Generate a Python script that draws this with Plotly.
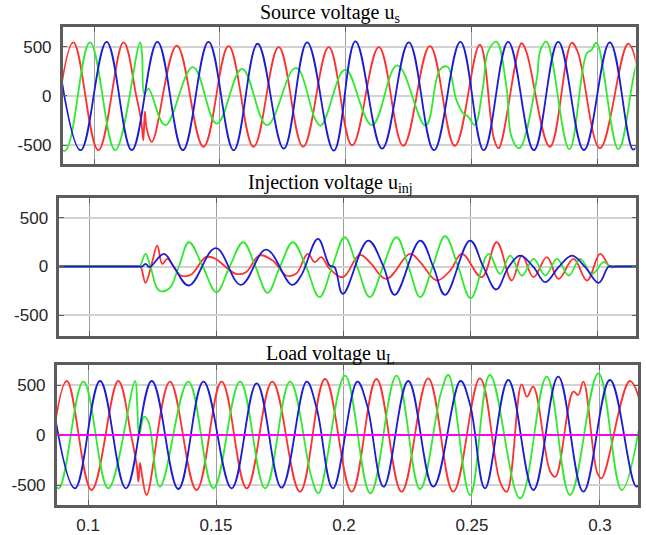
import plotly.graph_objects as go

# ---------------- data ----------------
# time in s, voltage in V; phase a = red, b = green, c = blue

# Source voltage u_s
src_a_t = [0.0850, 0.0918, 0.1017, 0.1117, 0.1168, 0.1188, 0.1196, 0.1202, 0.1210, 0.1230, 0.1329, 0.1435,
           0.1535, 0.1634, 0.1734, 0.1831, 0.1933, 0.2026, 0.2132, 0.2229, 0.2335, 0.2434, 0.2533, 0.2590,
           0.2608, 0.2699, 0.2718, 0.2812, 0.2898, 0.2922, 0.3011, 0.3123, 0.3170]
src_a_v = [-280, 545, -550, 545, 0, -260, -450, -160, -340, -465, 512, -515,
           505, -515, 495, -515, 495, -500, 495, -505, 505, -505, 520, -440,
           -530, 535, 450, -515, 540, 450, -530, 530, 150]

src_b_t = [0.0850, 0.0885, 0.0984, 0.1084, 0.1183, 0.1191, 0.1200, 0.1216, 0.1283, 0.1393, 0.1488, 0.1588,
           0.1687, 0.1790, 0.1812, 0.1880, 0.1902, 0.1985, 0.2005, 0.2105, 0.2205, 0.2318, 0.2374, 0.2405,
           0.2440, 0.2467, 0.2487, 0.2513, 0.2546, 0.2566, 0.2599, 0.2639, 0.2659, 0.2690, 0.2759, 0.2774,
           0.2798, 0.2889, 0.2958, 0.2977, 0.2997, 0.3084, 0.3150, 0.3175]
src_b_v = [-500, -555, 545, -550, 545, 420, 20, 75, -296, 293, -280, 276,
           -296, 270, 276, -240, -300, 245, 265, -296, 310, -300, 264, 297,
           -40, -176, -209, -294, 95, 449, 551, 95, -412, -530, 162, 466,
           551, -540, 432, 466, 540, -540, 264, 450]

src_c_t = [0.0848, 0.0947, 0.1050, 0.1150, 0.1252, 0.1353, 0.1455, 0.1555, 0.1650, 0.1754, 0.1847, 0.1953,
           0.2039, 0.2145, 0.2251, 0.2351, 0.2456, 0.2549, 0.2646, 0.2748, 0.2845, 0.2947, 0.3050, 0.3143,
           0.3180]
src_c_v = [550, -550, 550, -550, 550, -550, 550, -550, 530, -535, 545, -555,
           555, -535, 545, -550, 550, -550, 550, -550, 550, -550, 545, -545,
           -300]

# Injection voltage u_inj
inj_a_t = [0.0850, 0.1190, 0.1201, 0.1221, 0.1247, 0.1267, 0.1287, 0.1307, 0.1359, 0.1399, 0.1458, 0.1491,
           0.1576, 0.1616, 0.1668, 0.1721, 0.1774, 0.1813, 0.1859, 0.1886, 0.1912, 0.1945, 0.1997, 0.2063,
           0.2103, 0.2168, 0.2261, 0.2301, 0.2366, 0.2419, 0.2465, 0.2543, 0.2602, 0.2661, 0.2701, 0.2747,
           0.2799, 0.2845, 0.2904, 0.2957, 0.3009, 0.3049, 0.3075, 0.3200]
inj_a_v = [0, 0, 0, -167, 44, 214, 27, 78, -92, -85, 95, 85,
           -75, -58, 112, 61, -92, -75, 130, 44, 95, -24, -109, 119,
           44, -126, 129, 44, -143, -41, 129, -109, 248, -143, 112, -109,
           95, -126, 78, -143, 129, -7, 0, 0]

inj_b_t = [0.0850, 0.1190, 0.1198, 0.1221, 0.1241, 0.1274, 0.1313, 0.1352, 0.1392, 0.1446, 0.1500, 0.1552,
           0.1605, 0.1653, 0.1701, 0.1750, 0.1800, 0.1852, 0.1905, 0.1955, 0.2004, 0.2053, 0.2103, 0.2155,
           0.2208, 0.2255, 0.2301, 0.2350, 0.2399, 0.2450, 0.2500, 0.2570, 0.2615, 0.2655, 0.2701, 0.2747,
           0.2793, 0.2839, 0.2885, 0.2930, 0.2976, 0.3022, 0.3049, 0.3075, 0.3200]
inj_b_v = [0, 0, 0, 130, -7, -245, -228, 0, 248, 0, -262, 0,
           248, 0, -269, 0, 248, 0, -313, 0, 299, 0, -313, 0,
           299, 0, -313, 0, 309, 0, -323, 129, -75, 112, -92, 78,
           -92, 78, -92, 78, -75, 44, 0, 0, 0]

inj_c_t = [0.0850, 0.1195, 0.1208, 0.1221, 0.1237, 0.1293, 0.1333, 0.1392, 0.1497, 0.1596, 0.1695, 0.1797,
           0.1833, 0.1899, 0.1945, 0.1964, 0.1997, 0.2096, 0.2155, 0.2201, 0.2301, 0.2353, 0.2399, 0.2497,
           0.2550, 0.2600, 0.2648, 0.2694, 0.2747, 0.2793, 0.2845, 0.2898, 0.2950, 0.3003, 0.3042, 0.3060,
           0.3200]
inj_c_v = [0, 0, 0, 27, -7, 130, -7, -194, 187, -187, 173, -187,
           -92, 282, 10, -7, -279, 265, 10, -289, 265, -7, -289, 265,
           -7, -235, -7, 112, -7, -160, -7, 112, -7, -167, 0, 0,
           0]

# Load voltage u_L
load_a_t = [0.0850, 0.0917, 0.1014, 0.1118, 0.1168, 0.1190, 0.1197, 0.1203, 0.1212, 0.1229, 0.1320, 0.1424,
            0.1522, 0.1620, 0.1720, 0.1828, 0.1926, 0.2030, 0.2127, 0.2225, 0.2329, 0.2427, 0.2531, 0.2610,
            0.2636, 0.2694, 0.2715, 0.2739, 0.2806, 0.2826, 0.2896, 0.2915, 0.2935, 0.2990, 0.3006, 0.3117,
            0.3165]
load_a_v = [-300, 540, -550, 540, 0, -300, -467, -280, -420, -600, 533, -550,
            533, -533, 533, -567, 560, -567, 560, -567, 567, -567, 567, -470,
            -567, 507, 383, 483, -367, -417, 433, 400, 533, -383, -433, 540,
            250]

load_b_t = [0.0850, 0.0885, 0.0982, 0.1079, 0.1184, 0.1192, 0.1200, 0.1219, 0.1236, 0.1281, 0.1392, 0.1490,
            0.1594, 0.1692, 0.1789, 0.1874, 0.1900, 0.2004, 0.2103, 0.2205, 0.2297, 0.2380, 0.2408, 0.2493,
            0.2570, 0.2688, 0.2792, 0.2883, 0.2994, 0.3085, 0.3165]
load_b_v = [-400, -533, 533, -533, 540, 300, 0, 183, 133, -517, 533, -533,
            533, -533, 533, -433, -583, 593, -583, 593, -540, 433, 600, -600,
            600, -633, 583, -600, 617, -550, 250]

load_c_t = [0.0848, 0.0949, 0.1047, 0.1148, 0.1249, 0.1353, 0.1451, 0.1561, 0.1659, 0.1756, 0.1854, 0.1893,
            0.1957, 0.2052, 0.2090, 0.2155, 0.2251, 0.2349, 0.2455, 0.2493, 0.2551, 0.2642, 0.2740, 0.2837,
            0.2935, 0.3039, 0.3143, 0.3180]
load_c_v = [550, -533, 540, -533, 540, -540, 533, -533, 517, -527, 533, 270,
            -533, 533, 300, -517, 540, -517, 540, 300, -533, 550, -550, 583,
            -567, 550, -517, -300]

neutral_t = [0.0850, 0.3200]
neutral_v = [0, 0]

x_tick_vals = [0.1, 0.15, 0.2, 0.25, 0.3]
x_tick_text = ["0.1", "0.15", "0.2", "0.25", "0.3"]
y_tick_vals = [-500, 0, 500]
y_tick_text = ["-500", "0", "500"]

titles = ["Source voltage u<sub>s</sub>", "Injection voltage u<sub>inj</sub>", "Load voltage u<sub>L</sub>"]

# ---------------- styling / layout ----------------
W, H = 646, 535
RED, GREEN, BLUE, MAGENTA = "#ff3030", "#30ea30", "#1c1cd4", "#ff00ff"

def dom_x(left, right):
    return [left / W, right / W]

def dom_y(top, bottom):
    return [1 - bottom / H, 1 - top / H]

panels = [
    dict(series=[(src_a_t, src_a_v, RED), (src_b_t, src_b_v, GREEN), (src_c_t, src_c_v, BLUE)],
         xd=dom_x(62.7, 635.5), yd=dom_y(27, 164), xr=[0.08755, 0.3152], yr=[-690, 700], ty=14),
    dict(series=[(inj_a_t, inj_a_v, RED), (inj_b_t, inj_b_v, GREEN), (inj_c_t, inj_c_v, BLUE)],
         xd=dom_x(59.3, 636.3), yd=dom_y(198, 335.5), xr=[0.08819, 0.31508], yr=[-705, 700], ty=183),
    dict(series=[(load_a_t, load_a_v, RED), (load_b_t, load_b_v, GREEN), (load_c_t, load_c_v, BLUE)],
         xd=dom_x(56.7, 638.3), yd=dom_y(365, 505), xr=[0.08776, 0.31498], yr=[-700, 700], ty=354),
]

fig = go.Figure()
layout = dict(width=W, height=H, margin=dict(l=0, r=0, t=0, b=0), template="none",
              paper_bgcolor="white", plot_bgcolor="white", showlegend=False, annotations=[])

frame = "#5c5c5c"
tickfont = dict(family="Liberation Sans, Arial, sans-serif", size=17, color="#262626")

for i, p in enumerate(panels):
    k = "" if i == 0 else str(i + 1)
    for (t, v, c) in p["series"]:
        fig.add_trace(go.Scatter(x=t, y=v, mode="lines", xaxis="x" + k, yaxis="y" + k,
                                 line=dict(color=c, width=1.8, shape="spline", smoothing=1.1),
                                 hoverinfo="skip"))
    if i == 2:
        fig.add_trace(go.Scatter(x=neutral_t, y=neutral_v, mode="lines", xaxis="x3", yaxis="y3",
                                 line=dict(color=MAGENTA, width=2), hoverinfo="skip"))
    layout["xaxis" + k] = dict(domain=p["xd"], range=p["xr"], anchor="y" + k,
                               showline=True, mirror="ticks", linecolor=frame, linewidth=2.5,
                               ticks="inside", ticklen=5, tickcolor=frame, tickwidth=1,
                               showgrid=True, gridcolor="#9e9e9e", gridwidth=1, zeroline=False,
                               tickmode="array", tickvals=x_tick_vals, ticktext=x_tick_text,
                               showticklabels=(i == 2), tickfont=tickfont, automargin=False,
                               ticklabelstandoff=3)
    layout["yaxis" + k] = dict(domain=p["yd"], range=p["yr"], anchor="x" + k,
                               showline=True, mirror="ticks", linecolor=frame, linewidth=2.5,
                               ticks="inside", ticklen=5, tickcolor=frame, tickwidth=1,
                               showgrid=True, gridcolor="#d2d2d2", gridwidth=1.5, zeroline=False,
                               tickmode="array", tickvals=y_tick_vals, ticktext=y_tick_text,
                               tickfont=tickfont, automargin=False, ticklabelstandoff=5)
    layout["annotations"].append(dict(text=titles[i], xref="paper", yref="paper",
                                      x=330 / W, y=1 - p["ty"] / H, xanchor="center", yanchor="middle",
                                      showarrow=False,
                                      font=dict(family="Liberation Serif, Times New Roman, serif",
                                                size=20, color="black")))

fig.update_layout(**layout)
fig.write_html("out.html", config={"displayModeBar": False},
               post_script="document.body.style.margin='0';document.body.style.overflow='hidden';")
